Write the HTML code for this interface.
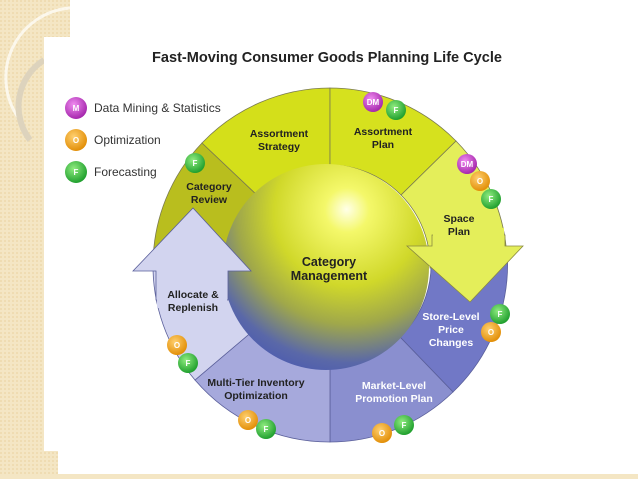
<!DOCTYPE html>
<html><head><meta charset="utf-8"><style>
html,body{margin:0;padding:0;background:#fff;width:638px;height:479px;overflow:hidden}
svg{display:block}
text{font-family:"Liberation Sans",sans-serif;font-weight:bold}
</style></head><body>
<svg width="638" height="479" viewBox="0 0 638 479" xmlns="http://www.w3.org/2000/svg">
<defs>
<pattern id="pt" width="4" height="4" patternUnits="userSpaceOnUse">
<rect width="4" height="4" fill="#f4e6c4"/><rect width="2" height="2" fill="#efdcb2"/></pattern>
<radialGradient id="sph" cx="0.62" cy="0.25" r="0.9" fx="0.6" fy="0.22">
<stop offset="0" stop-color="#ffffe8"/><stop offset="0.12" stop-color="#f4f86a"/>
<stop offset="0.4" stop-color="#d0d82a"/><stop offset="0.6" stop-color="#a0a84a"/>
<stop offset="0.8" stop-color="#5a68a8"/><stop offset="1" stop-color="#3e4eb8"/></radialGradient>
<radialGradient id="gm" cx="0.4" cy="0.35" r="0.7"><stop offset="0" stop-color="#f08cf0"/><stop offset="1" stop-color="#a020a8"/></radialGradient>
<radialGradient id="go" cx="0.4" cy="0.35" r="0.7"><stop offset="0" stop-color="#ffd070"/><stop offset="1" stop-color="#e08a00"/></radialGradient>
<radialGradient id="gf" cx="0.4" cy="0.35" r="0.7"><stop offset="0" stop-color="#90ec80"/><stop offset="1" stop-color="#189a28"/></radialGradient>
</defs>
<rect x="0" y="0" width="70" height="479" fill="url(#pt)"/>
<rect x="0" y="474" width="638" height="5" fill="#f4e6c4"/>
<path d="M70 8 A70 70 0 0 0 20 120" stroke="#fff" stroke-width="3" fill="none" opacity="0.7"/>
<path d="M44 60 A55 55 0 0 0 30 140" stroke="#ddd3bd" stroke-width="6" fill="none"/>
<rect x="44" y="37" width="594" height="414" fill="#fff"/>
<rect x="58" y="451" width="580" height="23" fill="#fff"/>

<text x="327" y="62" font-size="15" text-anchor="middle" fill="#222" textLength="350" lengthAdjust="spacingAndGlyphs">Fast-Moving Consumer Goods Planning Life Cycle</text>

<g stroke="#7a7a50" stroke-width="0.8">
<path d="M153 265 A177 177 0 0 1 202 143 L258 196 A100 100 0 0 0 230 265Z" fill="#b9be1e"/>
<path d="M202 143 A177 177 0 0 1 330 88 L330 165 A100 100 0 0 0 258 196Z" fill="#d4df1a"/>
<path d="M330 88 A177 177 0 0 1 456 141 L401 195 A100 100 0 0 0 330 165Z" fill="#d6e11e"/>
<path d="M456 141 A177 177 0 0 1 507 270 L430 268 A100 100 0 0 0 401 195Z" fill="#e4ee5a"/>
<path d="M507 250 A177 177 0 0 1 453 392 L400 337 A100 100 0 0 0 430 250Z" fill="#7178c6" stroke="#5a5f9a"/>
<path d="M453 392 A177 177 0 0 1 330 442 L330 365 A100 100 0 0 0 400 337Z" fill="#8a8fcf" stroke="#5a5f9a"/>
<path d="M330 442 A177 177 0 0 1 195 380 L254 330 A100 100 0 0 0 330 365Z" fill="#a6a9dc" stroke="#5a5f9a"/>
<path d="M195 380 A177 177 0 0 1 153 262 L230 262 A100 100 0 0 0 254 330Z" fill="#d2d4ef" stroke="#5a5f9a"/>
</g>
<circle cx="326" cy="267" r="103" fill="url(#sph)"/>
<polygon points="156,271 133,271 193,208 251,271 228,271 228,300 156,300" fill="#d2d4ef" stroke="#5a5f9a" stroke-width="0.8"/>
<rect x="157" y="268" width="70" height="40" fill="#d2d4ef"/>
<polygon points="432,246 407,246 470,302 523,246 505,246 505,235 432,235" fill="#e4ee5a" stroke="#8a8a40" stroke-width="0.8"/>
<rect x="433" y="228" width="71" height="19" fill="#e4ee5a"/>

<g font-size="10.5" text-anchor="middle" fill="#222">
<text x="279" y="137">Assortment</text><text x="279" y="150">Strategy</text>
<text x="383" y="135">Assortment</text><text x="383" y="148">Plan</text>
<text x="209" y="190">Category</text><text x="209" y="203">Review</text>
<text x="459" y="222">Space</text><text x="459" y="235">Plan</text>
<text x="193" y="298">Allocate &amp;</text><text x="193" y="311">Replenish</text>
<text x="256" y="386">Multi-Tier Inventory</text><text x="256" y="399">Optimization</text>
<g fill="#fff"><text x="451" y="320">Store-Level</text><text x="451" y="333">Price</text><text x="451" y="346">Changes</text>
<text x="394" y="389">Market-Level</text><text x="394" y="402">Promotion Plan</text></g>
<text x="329" y="266" font-size="12.5">Category</text><text x="329" y="280" font-size="12.5">Management</text>
</g>

<g font-size="12" fill="#333">
<text x="94" y="112" style="font-weight:normal">Data Mining &amp; Statistics</text>
<text x="94" y="144" style="font-weight:normal">Optimization</text>
<text x="94" y="176" style="font-weight:normal">Forecasting</text>
</g>
<g font-size="8" text-anchor="middle" fill="#fff">
<circle cx="76" cy="108" r="11" fill="url(#gm)"/><text x="76" y="111">M</text>
<circle cx="76" cy="140" r="11" fill="url(#go)"/><text x="76" y="143">O</text>
<circle cx="76" cy="172" r="11" fill="url(#gf)"/><text x="76" y="175">F</text>
<circle cx="195" cy="163" r="10" fill="url(#gf)"/><text x="195" y="166">F</text>
<circle cx="373" cy="102" r="10" fill="url(#gm)"/><text x="373" y="105">DM</text>
<circle cx="396" cy="110" r="10" fill="url(#gf)"/><text x="396" y="113">F</text>
<circle cx="467" cy="164" r="10" fill="url(#gm)"/><text x="467" y="167">DM</text>
<circle cx="480" cy="181" r="10" fill="url(#go)"/><text x="480" y="184">O</text>
<circle cx="491" cy="199" r="10" fill="url(#gf)"/><text x="491" y="202">F</text>
<circle cx="491" cy="332" r="10" fill="url(#go)"/><text x="491" y="335">O</text>
<circle cx="500" cy="314" r="10" fill="url(#gf)"/><text x="500" y="317">F</text>
<circle cx="177" cy="345" r="10" fill="url(#go)"/><text x="177" y="348">O</text>
<circle cx="188" cy="363" r="10" fill="url(#gf)"/><text x="188" y="366">F</text>
<circle cx="248" cy="420" r="10" fill="url(#go)"/><text x="248" y="423">O</text>
<circle cx="266" cy="429" r="10" fill="url(#gf)"/><text x="266" y="432">F</text>
<circle cx="382" cy="433" r="10" fill="url(#go)"/><text x="382" y="436">O</text>
<circle cx="404" cy="425" r="10" fill="url(#gf)"/><text x="404" y="428">F</text>
</g>
</svg>
</body></html>
